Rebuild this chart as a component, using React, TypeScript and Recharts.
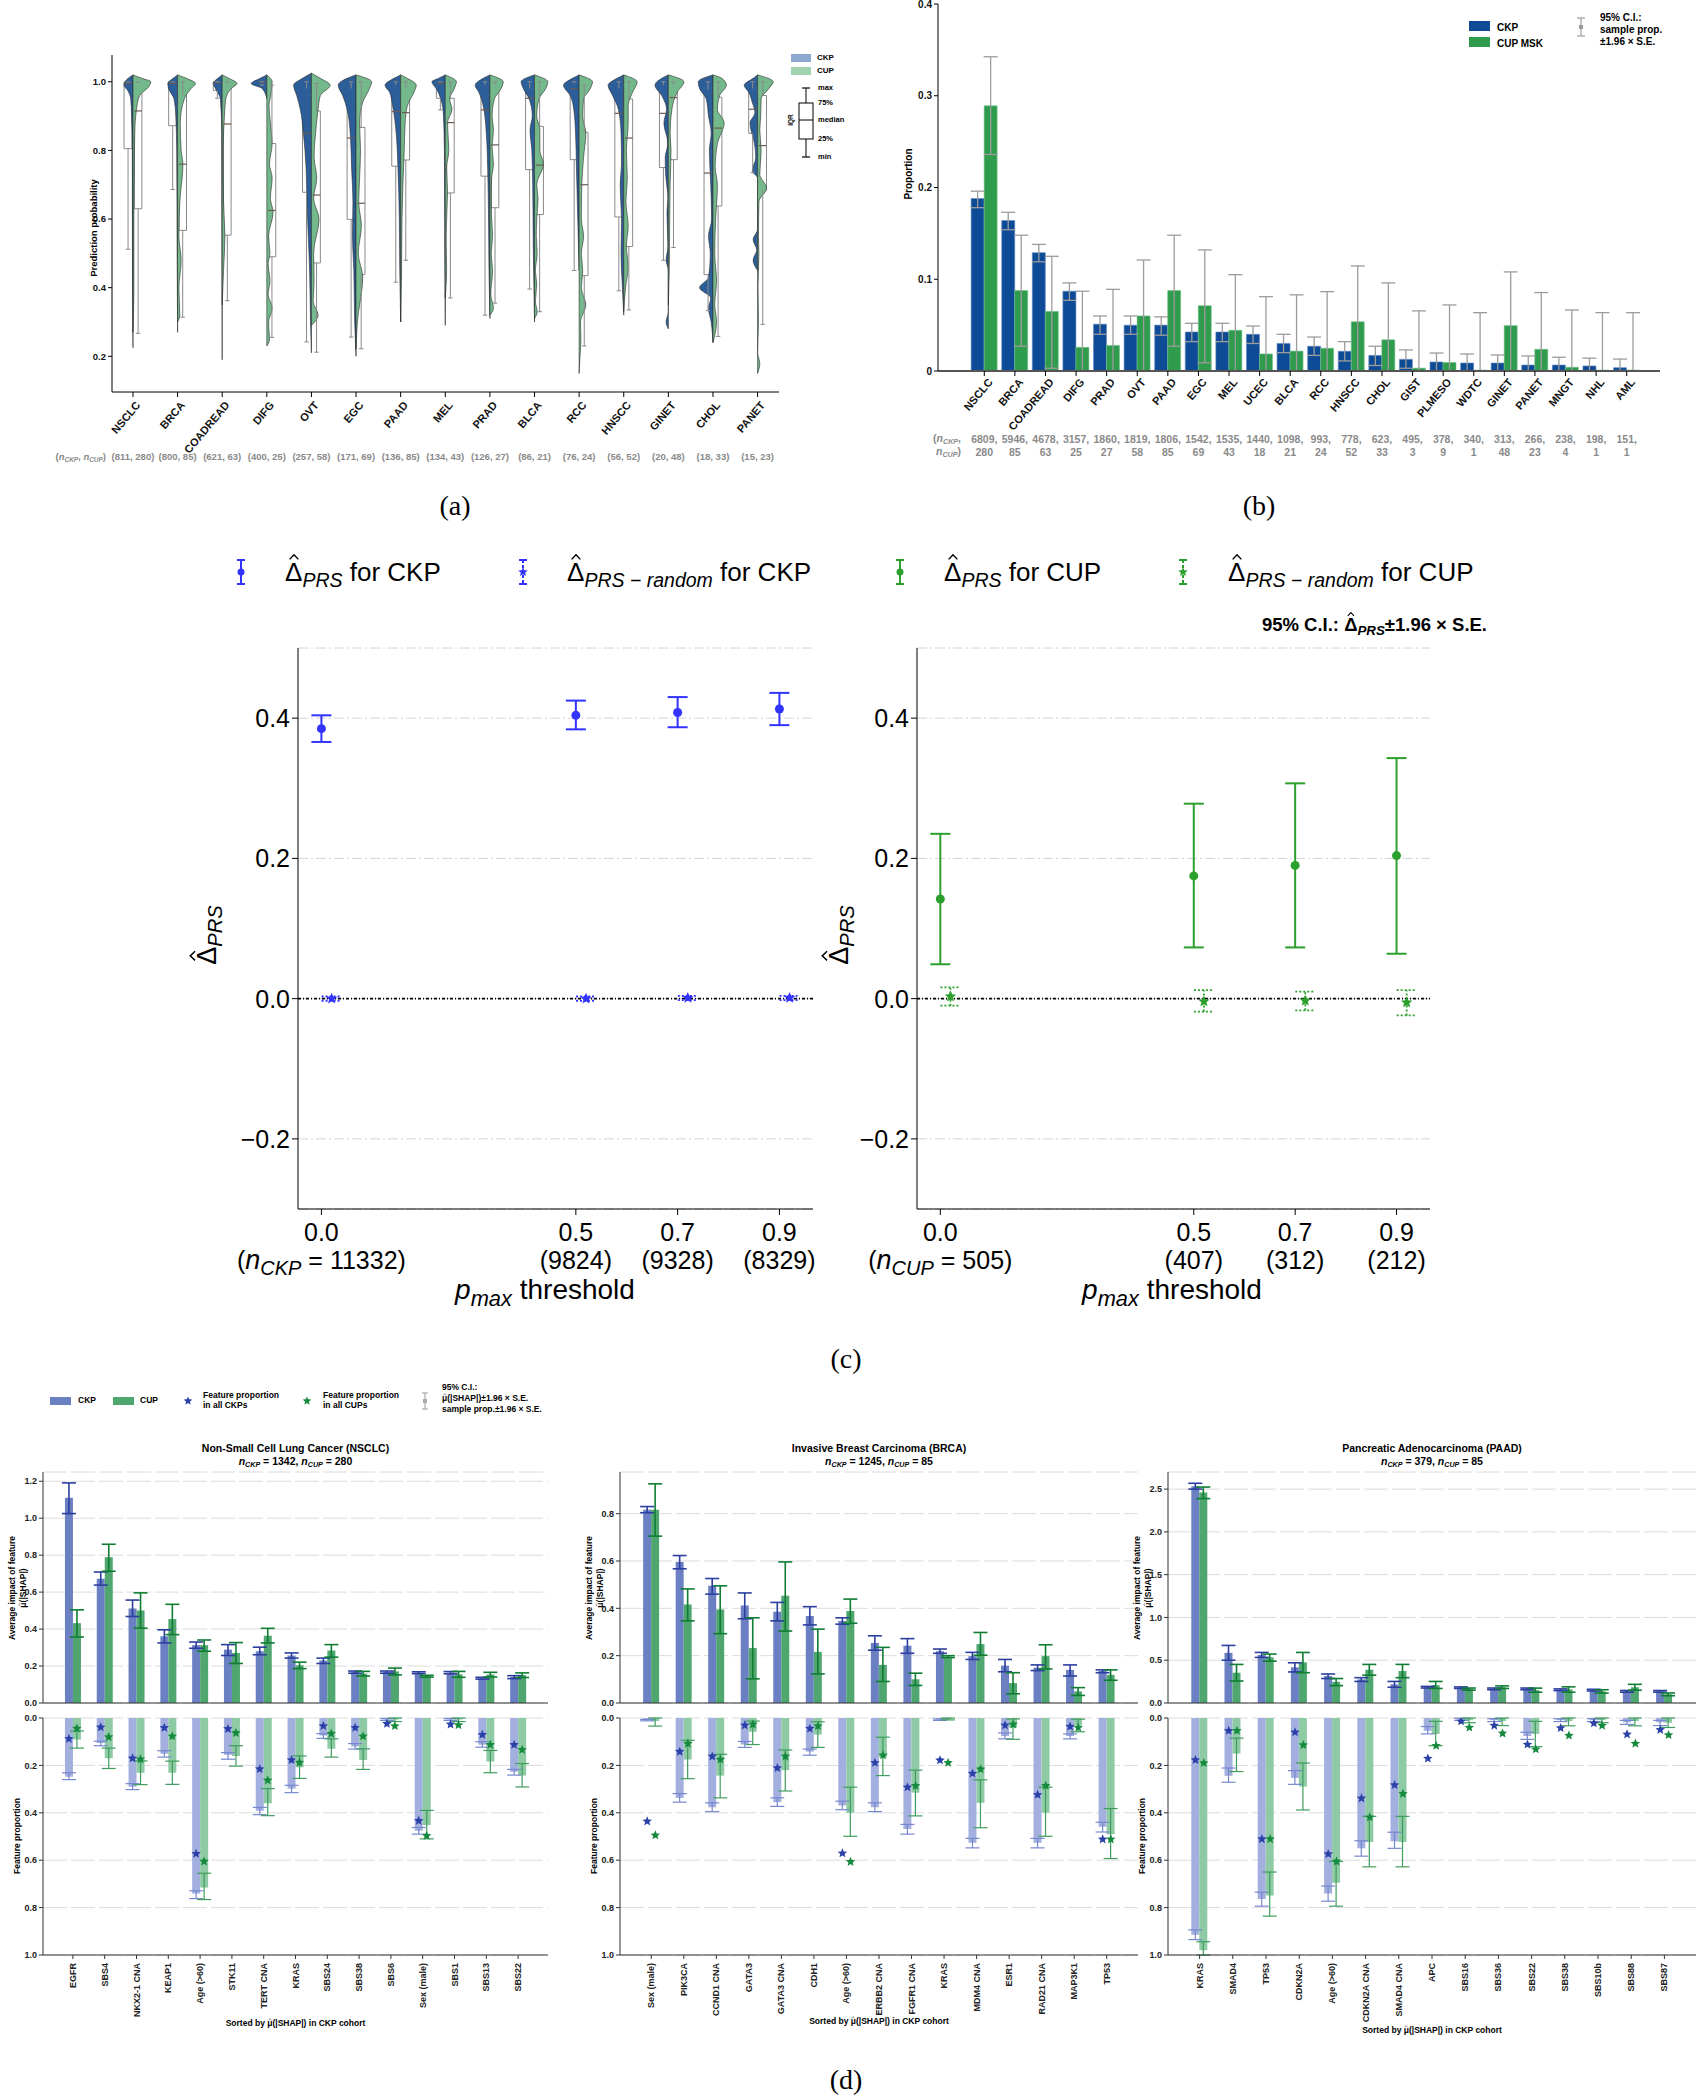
import React from "react";
import {
  ComposedChart, BarChart, Bar, Area, XAxis, YAxis, CartesianGrid, ErrorBar,
  Scatter, ReferenceArea, ReferenceLine,
} from "recharts";

const FONT = "'Liberation Sans', Arial, Helvetica, sans-serif";
const SERIF = "'Liberation Serif', 'DejaVu Serif', 'Times New Roman', serif";

// ---------------- (a) prediction probability per cancer type ----------------
const aCancers = ["NSCLC", "BRCA", "COADREAD", "DIFG", "OVT", "EGC", "PAAD", "MEL", "PRAD", "BLCA", "RCC", "HNSCC", "GINET", "CHOL", "PANET"];
const aCounts = ["(811, 280)", "(800, 85)", "(621, 63)", "(400, 25)", "(257, 58)", "(171, 69)", "(136, 85)", "(134, 43)", "(126, 27)", "(86, 21)", "(76, 24)", "(56, 52)", "(20, 48)", "(18, 33)", "(15, 23)"];
// [min, q1, median, q3, max]
const aCkpBox = [
  [0.512, 0.805, 0.995, 1.0, 1.0], [0.686, 0.872, 0.995, 1.0, 1.0], [0.952, 0.975, 0.997, 1.0, 1.0],
  [0.99, 0.995, 1.0, 1.0, 1.0], [0.242, 0.678, 0.85, 0.98, 1.0], [0.256, 0.599, 0.836, 0.98, 1.0],
  [0.416, 0.754, 0.913, 0.99, 1.0], [0.918, 0.952, 0.995, 1.0, 1.0], [0.32, 0.725, 0.918, 0.99, 1.0],
  [0.396, 0.744, 0.952, 0.98, 1.0], [0.45, 0.773, 0.98, 0.995, 1.0], [0.391, 0.606, 0.908, 0.98, 1.0],
  [0.48, 0.75, 0.908, 0.99, 1.0], [0.333, 0.438, 0.734, 0.976, 1.0], [0.735, 0.85, 0.92, 0.98, 1.0],
];
const aCupBox = [
  [0.267, 0.63, 0.915, 0.995, 1.0], [0.314, 0.567, 0.76, 0.961, 1.0], [0.362, 0.553, 0.877, 0.995, 1.0],
  [0.255, 0.49, 0.625, 0.82, 0.99], [0.212, 0.472, 0.67, 0.915, 0.995], [0.222, 0.438, 0.646, 0.867, 1.0],
  [0.48, 0.772, 0.91, 0.98, 1.0], [0.37, 0.676, 0.881, 0.952, 1.0], [0.355, 0.633, 0.816, 0.99, 1.0],
  [0.33, 0.613, 0.757, 0.87, 1.0], [0.23, 0.435, 0.70, 0.853, 0.99], [0.335, 0.52, 0.836, 0.95, 1.0],
  [0.517, 0.773, 0.954, 0.99, 1.0], [0.258, 0.638, 0.865, 0.955, 1.0], [0.293, 0.684, 0.814, 0.96, 1.0],
];
// violin outlines: [probability, half width in category units]
const aCkpViolin = [
  [[0.225, 0], [0.4, 0.01], [0.8, 0.015], [0.9, 0.03], [0.95, 0.05], [0.975, 0.12], [0.99, 0.2], [1.005, 0.15], [1.02, 0]],
  [[0.27, 0], [0.5, 0.01], [0.8, 0.02], [0.9, 0.04], [0.95, 0.08], [0.98, 0.2], [0.995, 0.22], [1.01, 0.1], [1.02, 0]],
  [[0.19, 0], [0.5, 0.005], [0.85, 0.01], [0.95, 0.04], [0.98, 0.15], [0.995, 0.2], [1.01, 0.1], [1.02, 0]],
  [[0.95, 0], [0.98, 0.1], [0.995, 0.35], [1.01, 0.15], [1.02, 0]],
  [[0.21, 0], [0.3, 0.02], [0.45, 0.04], [0.55, 0.07], [0.65, 0.1], [0.75, 0.12], [0.85, 0.18], [0.92, 0.25], [0.96, 0.33], [0.99, 0.4], [1.01, 0.2], [1.025, 0]],
  [[0.2, 0], [0.3, 0.03], [0.45, 0.05], [0.55, 0.08], [0.65, 0.07], [0.75, 0.1], [0.85, 0.13], [0.92, 0.2], [0.96, 0.3], [0.99, 0.4], [1.01, 0.2], [1.02, 0]],
  [[0.3, 0], [0.45, 0.02], [0.6, 0.03], [0.75, 0.06], [0.85, 0.1], [0.93, 0.18], [0.97, 0.25], [0.99, 0.35], [1.01, 0.15], [1.02, 0]],
  [[0.29, 0], [0.5, 0.01], [0.8, 0.02], [0.9, 0.04], [0.95, 0.1], [0.98, 0.2], [1.0, 0.3], [1.01, 0.15], [1.02, 0]],
  [[0.31, 0], [0.45, 0.02], [0.6, 0.03], [0.75, 0.05], [0.85, 0.08], [0.93, 0.15], [0.97, 0.25], [0.99, 0.33], [1.01, 0.15], [1.02, 0]],
  [[0.3, 0], [0.45, 0.02], [0.55, 0.03], [0.7, 0.04], [0.8, 0.06], [0.86, 0.1], [0.9, 0.05], [0.95, 0.12], [0.98, 0.25], [1.0, 0.3], [1.02, 0]],
  [[0.45, 0], [0.55, 0.02], [0.65, 0.04], [0.75, 0.06], [0.85, 0.08], [0.92, 0.12], [0.96, 0.2], [0.99, 0.35], [1.01, 0.15], [1.02, 0]],
  [[0.32, 0], [0.4, 0.03], [0.5, 0.06], [0.6, 0.05], [0.7, 0.08], [0.76, 0.05], [0.85, 0.06], [0.92, 0.12], [0.96, 0.25], [0.99, 0.35], [1.01, 0.15], [1.02, 0]],
  [[0.28, 0], [0.3, 0.05], [0.33, 0], [0.45, 0], [0.48, 0.05], [0.52, 0.01], [0.62, 0.03], [0.66, 0.01], [0.73, 0.06], [0.78, 0.07], [0.82, 0.01], [0.88, 0.1], [0.92, 0.04], [0.96, 0.15], [0.99, 0.3], [1.01, 0.15], [1.02, 0]],
  [[0.24, 0], [0.3, 0.04], [0.34, 0.1], [0.37, 0.05], [0.4, 0.3], [0.43, 0.1], [0.5, 0.06], [0.55, 0.1], [0.6, 0.03], [0.7, 0.05], [0.8, 0.08], [0.85, 0.04], [0.9, 0.1], [0.95, 0.15], [0.98, 0.3], [1.0, 0.33], [1.02, 0]],
  [[0.45, 0], [0.48, 0.1], [0.51, 0.02], [0.54, 0.1], [0.57, 0], [0.72, 0], [0.74, 0.12], [0.78, 0.04], [0.82, 0.07], [0.88, 0.17], [0.91, 0.06], [0.94, 0.12], [0.97, 0.2], [0.99, 0.3], [1.01, 0.1], [1.02, 0]],
];
const aCupViolin = [
  [[0.27, 0], [0.4, 0.02], [0.6, 0.02], [0.75, 0.03], [0.85, 0.04], [0.92, 0.08], [0.96, 0.15], [0.985, 0.35], [1.0, 0.4], [1.01, 0.2], [1.02, 0]],
  [[0.3, 0], [0.32, 0.05], [0.4, 0.03], [0.48, 0.08], [0.55, 0.03], [0.65, 0.05], [0.76, 0.12], [0.8, 0.08], [0.88, 0.06], [0.95, 0.15], [0.98, 0.3], [0.995, 0.4], [1.01, 0.2], [1.02, 0]],
  [[0.35, 0], [0.45, 0.03], [0.55, 0.06], [0.65, 0.03], [0.8, 0.02], [0.9, 0.05], [0.95, 0.08], [0.98, 0.2], [0.995, 0.33], [1.01, 0.15], [1.02, 0]],
  [[0.23, 0], [0.25, 0.06], [0.3, 0.04], [0.34, 0.12], [0.38, 0.03], [0.42, 0.07], [0.47, 0.03], [0.5, 0.07], [0.55, 0.04], [0.62, 0.14], [0.66, 0.08], [0.72, 0.12], [0.76, 0.06], [0.82, 0.12], [0.88, 0.08], [0.93, 0.05], [0.97, 0.1], [1.0, 0.12], [1.02, 0]],
  [[0.29, 0], [0.32, 0.15], [0.36, 0.04], [0.42, 0.06], [0.5, 0.05], [0.6, 0.17], [0.66, 0.05], [0.72, 0.12], [0.78, 0.06], [0.86, 0.1], [0.92, 0.15], [0.96, 0.2], [0.99, 0.42], [1.01, 0.2], [1.025, 0]],
  [[0.22, 0], [0.3, 0.03], [0.43, 0.15], [0.5, 0.05], [0.58, 0.12], [0.65, 0.06], [0.72, 0.08], [0.8, 0.1], [0.88, 0.08], [0.94, 0.15], [0.98, 0.3], [1.0, 0.35], [1.02, 0]],
  [[0.3, 0], [0.45, 0.02], [0.6, 0.03], [0.7, 0.05], [0.8, 0.08], [0.88, 0.1], [0.93, 0.15], [0.97, 0.3], [0.99, 0.35], [1.01, 0.15], [1.02, 0]],
  [[0.37, 0], [0.45, 0.03], [0.55, 0.02], [0.68, 0.05], [0.75, 0.03], [0.8, 0.08], [0.88, 0.05], [0.92, 0.15], [0.95, 0.1], [0.98, 0.2], [1.0, 0.25], [1.02, 0]],
  [[0.32, 0], [0.34, 0.08], [0.38, 0.02], [0.45, 0.06], [0.5, 0.03], [0.55, 0.06], [0.6, 0.04], [0.67, 0.03], [0.72, 0.04], [0.76, 0.08], [0.81, 0.05], [0.86, 0.08], [0.9, 0.05], [0.95, 0.1], [0.98, 0.25], [1.0, 0.3], [1.02, 0]],
  [[0.31, 0], [0.33, 0.06], [0.36, 0.02], [0.41, 0.05], [0.45, 0.02], [0.5, 0.06], [0.55, 0.04], [0.6, 0.05], [0.66, 0.08], [0.7, 0.05], [0.76, 0.2], [0.8, 0.12], [0.86, 0.12], [0.9, 0.05], [0.95, 0.1], [0.98, 0.25], [1.0, 0.3], [1.02, 0]],
  [[0.15, 0], [0.2, 0.02], [0.25, 0.04], [0.3, 0.03], [0.35, 0.15], [0.4, 0.05], [0.45, 0.08], [0.5, 0.05], [0.55, 0.1], [0.6, 0.05], [0.7, 0.06], [0.78, 0.1], [0.85, 0.15], [0.9, 0.08], [0.95, 0.1], [0.98, 0.25], [1.0, 0.3], [1.02, 0]],
  [[0.33, 0], [0.4, 0.04], [0.46, 0.1], [0.52, 0.06], [0.58, 0.1], [0.65, 0.05], [0.72, 0.08], [0.8, 0.06], [0.88, 0.1], [0.93, 0.1], [0.97, 0.2], [1.0, 0.3], [1.02, 0]],
  [[0.35, 0], [0.45, 0.02], [0.6, 0.03], [0.7, 0.04], [0.8, 0.06], [0.85, 0.04], [0.92, 0.08], [0.97, 0.2], [1.0, 0.35], [1.02, 0]],
  [[0.24, 0], [0.3, 0.08], [0.35, 0.04], [0.42, 0.08], [0.5, 0.04], [0.6, 0.06], [0.7, 0.1], [0.75, 0.05], [0.82, 0.1], [0.88, 0.25], [0.92, 0.1], [0.96, 0.15], [0.99, 0.3], [1.01, 0.2], [1.02, 0]],
  [[0.15, 0], [0.18, 0.05], [0.21, 0], [0.3, 0.02], [0.4, 0.01], [0.5, 0.03], [0.55, 0.02], [0.65, 0.03], [0.69, 0.2], [0.73, 0.05], [0.8, 0.08], [0.86, 0.05], [0.9, 0.07], [0.95, 0.08], [0.98, 0.25], [1.0, 0.35], [1.02, 0]],
];

// ---------------- (b) cancer type proportions ----------------
const bCancers = ["NSCLC", "BRCA", "COADREAD", "DIFG", "PRAD", "OVT", "PAAD", "EGC", "MEL", "UCEC", "BLCA", "RCC", "HNSCC", "CHOL", "GIST", "PLMESO", "WDTC", "GINET", "PANET", "MNGT", "NHL", "AML"];
const bCkp = [0.188, 0.164, 0.129, 0.087, 0.051, 0.05, 0.05, 0.0425, 0.0425, 0.04, 0.03, 0.027, 0.0215, 0.017, 0.0127, 0.0098, 0.0087, 0.0087, 0.0065, 0.0065, 0.0055, 0.0036];
const bCkpCI = [[0.178, 0.196], [0.154, 0.173], [0.119, 0.138], [0.077, 0.096], [0.04, 0.06], [0.04, 0.06], [0.039, 0.059], [0.032, 0.052], [0.032, 0.052], [0.03, 0.049], [0.02, 0.04], [0.017, 0.037], [0.011, 0.032], [0.006, 0.027], [0.003, 0.023], [0.0, 0.0196], [0.0, 0.0185], [0.0, 0.0175], [0.0, 0.0164], [0.0, 0.015], [0.0, 0.014], [0.0, 0.013]];
const bCup = [0.289, 0.0877, 0.065, 0.0258, 0.0279, 0.06, 0.0877, 0.0712, 0.0444, 0.0186, 0.0217, 0.0248, 0.0537, 0.034, 0.0031, 0.0093, 0.001, 0.0495, 0.0237, 0.0041, 0.001, 0.001];
const bCupCI = [[0.236, 0.3425], [0.027, 0.148], [0.003, 0.125], [0.0, 0.087], [0.0, 0.089], [0.0, 0.121], [0.027, 0.148], [0.009, 0.132], [0.0, 0.105], [0.0, 0.081], [0.0, 0.083], [0.0, 0.0865], [0.0, 0.1145], [0.0, 0.096], [0.0, 0.0655], [0.0, 0.072], [0.0, 0.0636], [0.0, 0.108], [0.0, 0.0855], [0.0, 0.0665], [0.0, 0.0636], [0.0, 0.0636]];
const bNCkp = ["6809", "5946", "4678", "3157", "1860", "1819", "1806", "1542", "1535", "1440", "1098", "993", "778", "623", "495", "378", "340", "313", "266", "238", "198", "151"];
const bNCup = ["280", "85", "63", "25", "27", "58", "85", "69", "43", "18", "21", "24", "52", "33", "3", "9", "1", "48", "23", "4", "1", "1"];

// ---------------- (c) PRS vs p_max threshold ----------------
const cThresholds = [0, 0.5, 0.7, 0.9];
const cCkpN = ["11332", "9824", "9328", "8329"];
const cCupN = ["505", "407", "312", "212"];
const cCkpPrs = [0.385, 0.404, 0.408, 0.413];
const cCkpPrsCI = [[0.366, 0.404], [0.384, 0.425], [0.387, 0.43], [0.39, 0.436]];
const cCkpRand = [0.0, 0.0, 0.001, 0.001];
const cCkpRandCI = [[-0.003, 0.003], [-0.003, 0.003], [-0.002, 0.004], [-0.002, 0.004]];
const cCupPrs = [0.142, 0.175, 0.19, 0.204];
const cCupPrsCI = [[0.049, 0.235], [0.073, 0.278], [0.073, 0.307], [0.064, 0.343]];
const cCupRand = [0.003, -0.004, -0.003, -0.0055];
const cCupRandCI = [[-0.01, 0.016], [-0.0185, 0.012], [-0.0167, 0.01], [-0.024, 0.012]];

// ---------------- (d) SHAP + feature proportion ----------------
const nsclcFeatures = ["EGFR", "SBS4", "NKX2-1 CNA", "KEAP1", "Age (>60)", "STK11", "TERT CNA", "KRAS", "SBS24", "SBS38", "SBS6", "Sex (male)", "SBS1", "SBS13", "SBS22"];
const nsclcCkpShap = [1.11, 0.673, 0.512, 0.361, 0.313, 0.289, 0.28, 0.257, 0.23, 0.168, 0.168, 0.164, 0.164, 0.134, 0.141];
const nsclcCkpShapCI = [[1.025, 1.191], [0.638, 0.709], [0.468, 0.557], [0.325, 0.396], [0.296, 0.33], [0.257, 0.316], [0.261, 0.302], [0.243, 0.271], [0.214, 0.243], [0.161, 0.173], [0.161, 0.173], [0.159, 0.169], [0.158, 0.17], [0.129, 0.139], [0.132, 0.148]];
const nsclcCupShap = [0.432, 0.789, 0.5, 0.454, 0.313, 0.271, 0.364, 0.204, 0.284, 0.159, 0.171, 0.145, 0.155, 0.154, 0.152];
const nsclcCupShapCI = [[0.357, 0.504], [0.713, 0.859], [0.405, 0.596], [0.37, 0.534], [0.28, 0.341], [0.214, 0.327], [0.325, 0.404], [0.186, 0.221], [0.248, 0.316], [0.146, 0.171], [0.152, 0.189], [0.14, 0.15], [0.139, 0.171], [0.141, 0.166], [0.138, 0.163]];
const nsclcCkpProp = [0.248, 0.106, 0.29, 0.151, 0.74, 0.155, 0.391, 0.298, 0.074, 0.12, 0.006, 0.476, 0.006, 0.113, 0.227];
const nsclcCkpPropCI = [[0.231, 0.26], [0.098, 0.117], [0.277, 0.302], [0.138, 0.165], [0.729, 0.762], [0.146, 0.174], [0.377, 0.408], [0.284, 0.315], [0.066, 0.086], [0.108, 0.131], [0.002, 0.01], [0.462, 0.49], [0.002, 0.01], [0.1, 0.123], [0.217, 0.241]];
const nsclcCupProp = [0.091, 0.17, 0.231, 0.231, 0.715, 0.16, 0.36, 0.208, 0.13, 0.177, 0.006, 0.452, 0.006, 0.184, 0.243];
const nsclcCupPropCI = [[0.055, 0.127], [0.127, 0.213], [0.181, 0.281], [0.182, 0.28], [0.655, 0.766], [0.117, 0.203], [0.298, 0.412], [0.16, 0.255], [0.088, 0.165], [0.13, 0.217], [0.0, 0.015], [0.39, 0.51], [0.0, 0.015], [0.137, 0.231], [0.192, 0.291]];
const nsclcCkpStar = [0.088, 0.039, 0.17, 0.041, 0.573, 0.046, 0.215, 0.177, 0.034, 0.041, 0.024, 0.434, 0.027, 0.071, 0.113];
const nsclcCupStar = [0.044, 0.08, 0.174, 0.077, 0.605, 0.063, 0.263, 0.188, 0.066, 0.077, 0.034, 0.497, 0.03, 0.113, 0.134];

const brcaFeatures = ["Sex (male)", "PIK3CA", "CCND1 CNA", "GATA3", "GATA3 CNA", "CDH1", "Age (>60)", "ERBB2 CNA", "FGFR1 CNA", "KRAS", "MDM4 CNA", "ESR1", "RAD21 CNA", "MAP3K1", "TP53"];
const brcaCkpShap = [0.816, 0.596, 0.495, 0.412, 0.386, 0.368, 0.346, 0.254, 0.242, 0.219, 0.198, 0.158, 0.149, 0.14, 0.135];
const brcaCkpShapCI = [[0.804, 0.83], [0.567, 0.623], [0.46, 0.526], [0.356, 0.465], [0.347, 0.425], [0.33, 0.407], [0.333, 0.36], [0.223, 0.284], [0.21, 0.272], [0.21, 0.228], [0.184, 0.214], [0.132, 0.184], [0.137, 0.161], [0.114, 0.161], [0.128, 0.14]];
const brcaCupShap = [0.816, 0.416, 0.395, 0.232, 0.453, 0.216, 0.389, 0.161, 0.1, 0.196, 0.249, 0.084, 0.198, 0.049, 0.119];
const brcaCupShapCI = [[0.705, 0.926], [0.347, 0.482], [0.293, 0.495], [0.102, 0.36], [0.304, 0.596], [0.123, 0.312], [0.337, 0.439], [0.091, 0.235], [0.074, 0.126], [0.192, 0.2], [0.202, 0.298], [0.039, 0.128], [0.144, 0.246], [0.032, 0.065], [0.096, 0.14]];
const brcaCkpProp = [0.009, 0.337, 0.377, 0.112, 0.355, 0.142, 0.369, 0.377, 0.468, 0.007, 0.526, 0.076, 0.526, 0.076, 0.459];
const brcaCkpPropCI = [[0.006, 0.012], [0.319, 0.355], [0.358, 0.395], [0.099, 0.124], [0.337, 0.373], [0.131, 0.157], [0.351, 0.387], [0.358, 0.395], [0.449, 0.49], [0.004, 0.01], [0.508, 0.548], [0.063, 0.088], [0.508, 0.548], [0.067, 0.088], [0.44, 0.481]];
const brcaCupProp = [0.013, 0.175, 0.243, 0.058, 0.22, 0.07, 0.4, 0.166, 0.315, 0.004, 0.358, 0.04, 0.4, 0.031, 0.49];
const brcaCupPropCI = [[0.0, 0.034], [0.094, 0.256], [0.153, 0.337], [0.013, 0.112], [0.135, 0.308], [0.016, 0.124], [0.292, 0.499], [0.081, 0.243], [0.22, 0.413], [0.0, 0.008], [0.261, 0.463], [0.004, 0.09], [0.292, 0.499], [0.005, 0.058], [0.382, 0.593]];
const brcaCkpStar = [0.436, 0.142, 0.162, 0.031, 0.211, 0.045, 0.571, 0.189, 0.292, 0.178, 0.234, 0.031, 0.324, 0.036, 0.512];
const brcaCupStar = [0.495, 0.108, 0.175, 0.027, 0.162, 0.034, 0.607, 0.157, 0.286, 0.189, 0.216, 0.027, 0.286, 0.04, 0.512];

const paadFeatures = ["KRAS", "SMAD4", "TP53", "CDKN2A", "Age (>60)", "CDKN2A CNA", "SMAD4 CNA", "APC", "SBS16", "SBS36", "SBS22", "SBS38", "SBS10b", "SBS88", "SBS87"];
const paadCkpShap = [2.534, 0.586, 0.562, 0.417, 0.315, 0.276, 0.218, 0.184, 0.179, 0.165, 0.165, 0.155, 0.15, 0.136, 0.136];
const paadCkpShapCI = [[2.5, 2.568], [0.5, 0.673], [0.533, 0.591], [0.363, 0.47], [0.286, 0.339], [0.252, 0.296], [0.184, 0.252], [0.175, 0.194], [0.17, 0.188], [0.155, 0.175], [0.155, 0.175], [0.145, 0.165], [0.14, 0.16], [0.126, 0.146], [0.126, 0.146]];
const paadCupShap = [2.461, 0.354, 0.533, 0.475, 0.247, 0.388, 0.373, 0.208, 0.165, 0.184, 0.15, 0.16, 0.136, 0.184, 0.102];
const paadCupShapCI = [[2.389, 2.524], [0.257, 0.451], [0.489, 0.572], [0.354, 0.591], [0.203, 0.286], [0.325, 0.451], [0.296, 0.451], [0.17, 0.252], [0.15, 0.175], [0.17, 0.2], [0.126, 0.174], [0.126, 0.189], [0.116, 0.155], [0.15, 0.218], [0.085, 0.117]];
const paadCkpProp = [0.915, 0.244, 0.764, 0.253, 0.74, 0.55, 0.52, 0.054, 0.005, 0.009, 0.076, 0.009, 0.009, 0.018, 0.018];
const paadCkpPropCI = [[0.894, 0.935], [0.211, 0.271], [0.735, 0.794], [0.222, 0.28], [0.709, 0.773], [0.518, 0.583], [0.482, 0.55], [0.036, 0.067], [0.001, 0.01], [0.003, 0.015], [0.06, 0.09], [0.003, 0.015], [0.003, 0.015], [0.01, 0.027], [0.01, 0.032]];
const paadCupProp = [0.98, 0.15, 0.749, 0.289, 0.695, 0.523, 0.523, 0.067, 0.009, 0.013, 0.067, 0.013, 0.009, 0.013, 0.02];
const paadCupPropCI = [[0.944, 1.0], [0.085, 0.226], [0.65, 0.836], [0.19, 0.388], [0.605, 0.794], [0.415, 0.628], [0.415, 0.628], [0.014, 0.117], [0.0, 0.02], [0.0, 0.032], [0.014, 0.121], [0.0, 0.033], [0.0, 0.02], [0.0, 0.033], [0.0, 0.04]];
const paadCkpStar = [0.177, 0.054, 0.511, 0.06, 0.574, 0.339, 0.283, 0.171, 0.014, 0.032, 0.112, 0.042, 0.022, 0.069, 0.05];
const paadCupStar = [0.19, 0.054, 0.511, 0.114, 0.605, 0.419, 0.32, 0.117, 0.04, 0.065, 0.132, 0.074, 0.032, 0.108, 0.072];

// ---------------- helpers ----------------
const starPath = (cx: number, cy: number, r: number) => {
  let d = "";
  for (let k = 0; k < 10; k++) {
    const rr = k % 2 === 0 ? r : r * 0.45;
    const a = -Math.PI / 2 + (k * Math.PI) / 5;
    d += (k === 0 ? "M" : "L") + (cx + rr * Math.cos(a)).toFixed(2) + "," + (cy + rr * Math.sin(a)).toFixed(2);
  }
  return d + "Z";
};

const StarShape = (props: any) =>
  props.cx == null ? null : <path d={starPath(props.cx, props.cy, props.rad || 5)} fill={props.color} />;
const DotShape = (props: any) =>
  props.cx == null ? null : <circle cx={props.cx} cy={props.cy} r={props.rad || 4.5} fill={props.color} />;

const Txt = ({ x, y, size = 10, weight = 400, color = "#000", anchor = "middle", rotate = 0, family = FONT, italic = false, children }: any) => {
  const tx = anchor === "middle" ? "-50%" : anchor === "end" ? "-100%" : "0%";
  return (
    <div style={{
      position: "absolute", left: x, top: y, transform: `translate(${tx}, -50%) rotate(${rotate}deg)`,
      whiteSpace: "nowrap", fontSize: size, fontWeight: weight, color, fontFamily: family,
      fontStyle: italic ? "italic" : "normal", lineHeight: 1.1,
    }}>{children}</div>
  );
};
const Sub = ({ children, s = 0.68 }: any) => (
  <span style={{ fontSize: `${s}em`, fontStyle: "italic", position: "relative", top: "0.32em" }}>{children}</span>
);
const Hat = ({ children }: any) => (
  <span style={{ position: "relative", display: "inline-block" }}>
    {children}
    <svg viewBox="0 0 10 6" preserveAspectRatio="none"
      style={{ position: "absolute", left: "50%", top: "-0.16em", width: "0.42em", height: "0.24em", transform: "translateX(-50%)", overflow: "visible" }}>
      <polyline points="1,5.5 5,1 9,5.5" fill="none" stroke="currentColor" strokeWidth={1.3} />
    </svg>
  </span>
);
const fmtMinus = (v: number) => (v < 0 ? "\u2212" + Math.abs(v).toFixed(1) : v.toFixed(1));
const errOf = (v: number, ci: number[]) => [Math.max(0, v - ci[0]), Math.max(0, ci[1] - v)];

// ---------------- (a) ----------------
const ATick = (props: any) => {
  const { x, y, payload } = props;
  const i = Math.round(payload.value);
  return (
    <g fontFamily={FONT} fontWeight={700}>
      <text transform={`translate(${x + 5},${y + 4}) rotate(-50)`} textAnchor="end" fontSize={11} fill="#111" dy="0.35em">{aCancers[i]}</text>
      <text x={x} y={y + 58} textAnchor="middle" fontSize={9.5} fill="#8a8a8a" dy="0.35em">{aCounts[i]}</text>
    </g>
  );
};

function PanelA() {
  const violins = aCancers.flatMap((_, i) => [
    <Area key={`vk${i}`} data={aCkpViolin[i].map(([p, w]) => ({ p, v: [i - w, i] }))} dataKey="v" type="monotone"
      fill="#2c5e99" fillOpacity={1} stroke="#2a2a2a" strokeWidth={0.6} isAnimationActive={false} dot={false} activeDot={false} />,
    <Area key={`vu${i}`} data={aCupViolin[i].map(([p, w]) => ({ p, v: [i, i + w] }))} dataKey="v" type="monotone"
      fill="#74b98b" fillOpacity={1} stroke="#2a2a2a" strokeWidth={0.6} isAnimationActive={false} dot={false} activeDot={false} />,
  ]);
  const boxes: any[] = [];
  aCancers.forEach((_, i) => {
    [[aCkpBox[i], i - 0.2, i - 0.02], [aCupBox[i], i + 0.03, i + 0.2]].forEach(([b, xa, xb]: any, k) => {
      const xm = (xa + xb) / 2;
      const g = "#8a8a8a";
      boxes.push(<ReferenceArea key={`ba${i}${k}`} x1={xa} x2={xb} y1={b[1]} y2={b[3]} fill="none" fillOpacity={0} stroke={g} strokeWidth={1} ifOverflow="visible" />);
      boxes.push(<ReferenceLine key={`bm${i}${k}`} segment={[{ x: xa, y: b[2] }, { x: xb, y: b[2] }]} stroke="#6b5a50" strokeWidth={1.2} ifOverflow="visible" />);
      boxes.push(<ReferenceLine key={`bl${i}${k}`} segment={[{ x: xm, y: b[0] }, { x: xm, y: b[1] }]} stroke={g} ifOverflow="visible" />);
      boxes.push(<ReferenceLine key={`bh${i}${k}`} segment={[{ x: xm, y: b[3] }, { x: xm, y: b[4] }]} stroke={g} ifOverflow="visible" />);
      boxes.push(<ReferenceLine key={`bc${i}${k}`} segment={[{ x: xm - 0.05, y: b[0] }, { x: xm + 0.05, y: b[0] }]} stroke={g} ifOverflow="visible" />);
      boxes.push(<ReferenceLine key={`bt${i}${k}`} segment={[{ x: xm - 0.05, y: b[4] }, { x: xm + 0.05, y: b[4] }]} stroke={g} ifOverflow="visible" />);
    });
  });
  return (
    <div style={{ position: "absolute", left: 40, top: 0 }}>
      <ComposedChart layout="vertical" width={770} height={480} margin={{ top: 55, right: 31, left: 36, bottom: 0 }}>
        <XAxis type="number" domain={[-0.47, 14.48]} ticks={aCancers.map((_, i) => i)} allowDataOverflow interval={0}
          tick={<ATick />} height={88} tickSize={5} axisLine={{ stroke: "#000" }} tickLine={{ stroke: "#000" }} />
        <YAxis type="number" dataKey="p" domain={[0.096, 1.078]} ticks={[0.2, 0.4, 0.6, 0.8, 1.0]} allowDataOverflow reversed
          width={36} tickSize={4} tickFormatter={(v: number) => v.toFixed(1)} axisLine={{ stroke: "#000" }} tickLine={{ stroke: "#000" }}
          tick={{ fontSize: 9.5, fontWeight: 700, fill: "#111", fontFamily: FONT }} />
        {boxes}
        {violins}
      </ComposedChart>
    </div>
  );
}

function LegendA() {
  return (
    <>
      <div style={{ position: "absolute", left: 791, top: 54, width: 20, height: 8, background: "#8eaad2" }} />
      <div style={{ position: "absolute", left: 791, top: 67, width: 20, height: 8, background: "#a2d3b0" }} />
      <Txt x={817} y={58} size={8} weight={700} anchor="start">CKP</Txt>
      <Txt x={817} y={71} size={8} weight={700} anchor="start">CUP</Txt>
      <svg style={{ position: "absolute", left: 796, top: 84 }} width={20} height={78}>
        <line x1={10} y1={4} x2={10} y2={19} stroke="#000" strokeWidth={1} />
        <line x1={10} y1={55} x2={10} y2={73} stroke="#000" strokeWidth={1} />
        <line x1={6} y1={4} x2={14} y2={4} stroke="#000" strokeWidth={1.2} />
        <line x1={6} y1={73} x2={14} y2={73} stroke="#000" strokeWidth={1.2} />
        <rect x={3} y={19} width={14} height={36} fill="none" stroke="#000" strokeWidth={1} />
        <line x1={3} y1={36} x2={17} y2={36} stroke="#000" strokeWidth={1} />
      </svg>
      <Txt x={791} y={120} size={6.5} weight={700} rotate={-90}>IQR</Txt>
      <Txt x={818} y={88} size={7.5} weight={700} anchor="start">max</Txt>
      <Txt x={818} y={103} size={7.5} weight={700} anchor="start">75%</Txt>
      <Txt x={818} y={120} size={7.5} weight={700} anchor="start">median</Txt>
      <Txt x={818} y={139} size={7.5} weight={700} anchor="start">25%</Txt>
      <Txt x={818} y={157} size={7.5} weight={700} anchor="start">min</Txt>
      <Txt x={94} y={228} size={9.5} weight={700} rotate={-90}>Prediction probability</Txt>
      <Txt x={106} y={457} size={9.5} weight={700} color="#8a8a8a" anchor="end">
        (<i>n</i><Sub>CKP</Sub>, <i>n</i><Sub>CUP</Sub>)
      </Txt>
    </>
  );
}

// ---------------- (b) ----------------
const BTick = (props: any) => {
  const { x, y, payload, index } = props;
  return (
    <g fontFamily={FONT} fontWeight={700}>
      <text transform={`translate(${x + 6},${y + 2}) rotate(-50)`} textAnchor="end" fontSize={11} fill="#111" dy="0.35em">{payload.value}</text>
      <text x={x} y={y + 61} textAnchor="middle" fontSize={10.5} fill="#8a8a8a" dy="0.35em">{bNCkp[index]},</text>
      <text x={x} y={y + 74} textAnchor="middle" fontSize={10.5} fill="#8a8a8a" dy="0.35em">{bNCup[index]}</text>
    </g>
  );
};

function PanelB() {
  const data = bCancers.map((c, i) => ({
    c, ckp: bCkp[i], ckpE: errOf(bCkp[i], bCkpCI[i]), cup: bCup[i], cupE: errOf(bCup[i], bCupCI[i]),
  }));
  return (
    <div style={{ position: "absolute", left: 880, top: -6 }}>
      <BarChart width={800} height={476} data={data} margin={{ top: 10, right: 20, left: 28, bottom: 0 }} barCategoryGap="7%" barGap={0}>
        <XAxis dataKey="c" interval={0} tick={<BTick />} height={99} padding={{ left: 31, right: 18 }} tickSize={5}
          axisLine={{ stroke: "#555", strokeWidth: 2 }} tickLine={{ stroke: "#000" }} />
        <YAxis domain={[0, 0.4]} ticks={[0, 0.1, 0.2, 0.3, 0.4]} allowDataOverflow width={30} tickSize={4}
          tickFormatter={(v: number) => (v === 0 ? "0" : String(v))} axisLine={{ stroke: "#000" }} tickLine={{ stroke: "#000" }}
          tick={{ fontSize: 10, fontWeight: 700, fill: "#111", fontFamily: FONT }} />
        <Bar dataKey="ckp" fill="#0e4b96" stroke="#5f86c0" strokeWidth={0.6} isAnimationActive={false}>
          <ErrorBar dataKey="ckpE" width={7} stroke="#9c9c9c" strokeWidth={1.3} direction="y" />
        </Bar>
        <Bar dataKey="cup" fill="#2f9b4c" stroke="#74c48b" strokeWidth={0.6} isAnimationActive={false}>
          <ErrorBar dataKey="cupE" width={7} stroke="#9c9c9c" strokeWidth={1.3} direction="y" />
        </Bar>
      </BarChart>
    </div>
  );
}

function LegendB() {
  return (
    <>
      <div style={{ position: "absolute", left: 1469, top: 21, width: 21, height: 10, background: "#0e4b96" }} />
      <div style={{ position: "absolute", left: 1469, top: 37, width: 21, height: 10, background: "#2f9b4c" }} />
      <Txt x={1497} y={27} size={10} weight={700} anchor="start">CKP</Txt>
      <Txt x={1497} y={43} size={10} weight={700} anchor="start">CUP MSK</Txt>
      <svg style={{ position: "absolute", left: 1575, top: 16 }} width={12} height={22}>
        <line x1={6} y1={2} x2={6} y2={20} stroke="#9c9c9c" strokeWidth={1.2} />
        <line x1={2} y1={2} x2={10} y2={2} stroke="#9c9c9c" strokeWidth={1.2} />
        <line x1={2} y1={20} x2={10} y2={20} stroke="#9c9c9c" strokeWidth={1.2} />
        <rect x={4} y={9} width={4} height={4} fill="#9c9c9c" />
      </svg>
      <Txt x={1600} y={17} size={10} weight={700} anchor="start">95% C.I.:</Txt>
      <Txt x={1600} y={29} size={10} weight={700} anchor="start">sample prop.</Txt>
      <Txt x={1600} y={41} size={10} weight={700} anchor="start">±1.96 × S.E.</Txt>
      <Txt x={908} y={174} size={10} weight={700} rotate={-90}>Proportion</Txt>
      <Txt x={961} y={439} size={10.5} weight={700} color="#8a8a8a" anchor="end">(<i>n</i><Sub>CKP</Sub>,</Txt>
      <Txt x={961} y={452} size={10.5} weight={700} color="#8a8a8a" anchor="end"><i>n</i><Sub>CUP</Sub>)</Txt>
    </>
  );
}

// ---------------- (c) ----------------
const CTick = (props: any) => {
  const { x, y, payload, counts, cohort } = props;
  const i = cThresholds.indexOf(payload.value);
  return (
    <g fontFamily={FONT} fontSize={25} fill="#000">
      <text x={x} y={y + 24} textAnchor="middle" fill="#000">{Number(payload.value).toFixed(1)}</text>
      {i === 0 ? (
        <text x={x} y={y + 52} textAnchor="middle" fill="#000">
          (<tspan fontStyle="italic" fontSize={27}>n</tspan>
          <tspan fontStyle="italic" fontSize={20} dy={6}>{cohort}</tspan>
          <tspan dy={-6}>{` = ${counts[0]})`}</tspan>
        </text>
      ) : (
        <text x={x} y={y + 52} textAnchor="middle" fill="#000">({counts[i]})</text>
      )}
    </g>
  );
};

function PanelC({ left, width, ml, mr, prs, prsCI, rnd, rndCI, color, counts, cohort }: any) {
  const main = cThresholds.map((t, i) => ({ x: t, y: prs[i], e: errOf(prs[i], prsCI[i]) }));
  const rand = cThresholds.map((t, i) => ({ x: t + 0.02, y: rnd[i], e: errOf(rnd[i], rndCI[i]) }));
  return (
    <div style={{ position: "absolute", left, top: 630 }}>
      <ComposedChart width={width} height={690} margin={{ top: 18, right: mr, left: ml, bottom: 0 }}>
        <CartesianGrid vertical={false} stroke="#d4d4d4" strokeDasharray="10 3 2 3" />
        <XAxis type="number" dataKey="x" domain={[-0.046, 0.966]} ticks={cThresholds} allowDataOverflow interval={0}
          tick={<CTick counts={counts} cohort={cohort} />} height={111} tickSize={6}
          axisLine={{ stroke: "#000" }} tickLine={{ stroke: "#000" }} />
        <YAxis type="number" dataKey="y" domain={[-0.3, 0.5]} ticks={[-0.2, 0, 0.2, 0.4]} allowDataOverflow width={60}
          tickSize={6} tickFormatter={fmtMinus} axisLine={{ stroke: "#000" }} tickLine={{ stroke: "#000" }}
          tick={{ fontSize: 25, fill: "#000", fontFamily: FONT }} />
        <ReferenceLine y={0} stroke="#000" strokeWidth={1.6} strokeDasharray="3 2 1 2" />
        <Scatter data={main} shape={<DotShape color={color} rad={4.5} />} isAnimationActive={false}>
          <ErrorBar dataKey="e" direction="y" width={10} stroke={color} strokeWidth={2} />
        </Scatter>
        <Scatter data={rand} shape={<StarShape color={color} rad={6} />} isAnimationActive={false}>
          <ErrorBar dataKey="e" direction="y" width={10} stroke={color} strokeWidth={1.8} strokeDasharray="2 2" />
        </Scatter>
      </ComposedChart>
    </div>
  );
}

const ErrGlyph = ({ x, y, color, dashed, star }: any) => (
  <svg style={{ position: "absolute", left: x - 8, top: y - 14 }} width={16} height={28}>
    <line x1={8} y1={2} x2={8} y2={26} stroke={color} strokeWidth={2} strokeDasharray={dashed ? "3 2" : undefined} />
    <line x1={4} y1={2} x2={12} y2={2} stroke={color} strokeWidth={2} />
    <line x1={4} y1={26} x2={12} y2={26} stroke={color} strokeWidth={2} />
    {star ? <path d={starPath(8, 14, 5)} fill={color} /> : <circle cx={8} cy={14} r={3.5} fill={color} />}
  </svg>
);

function LegendC() {
  const blue = "#3333ff", green = "#2ca02c";
  return (
    <>
      <ErrGlyph x={241} y={572} color={blue} />
      <Txt x={285} y={572} size={26} anchor="start"><Hat>Δ</Hat><Sub s={0.75}>PRS</Sub> for CKP</Txt>
      <ErrGlyph x={523} y={572} color={blue} dashed star />
      <Txt x={567} y={572} size={26} anchor="start"><Hat>Δ</Hat><Sub s={0.75}>PRS − random</Sub> for CKP</Txt>
      <ErrGlyph x={900} y={572} color={green} />
      <Txt x={944} y={572} size={26} anchor="start"><Hat>Δ</Hat><Sub s={0.75}>PRS</Sub> for CUP</Txt>
      <ErrGlyph x={1183} y={572} color={green} dashed star />
      <Txt x={1228} y={572} size={26} anchor="start"><Hat>Δ</Hat><Sub s={0.75}>PRS − random</Sub> for CUP</Txt>
      <Txt x={1487} y={625} size={18.5} weight={700} anchor="end">95% C.I.: <Hat>Δ</Hat><Sub s={0.72}>PRS</Sub>±1.96 × S.E.</Txt>
      <Txt x={208} y={935} size={27} rotate={-90}><Hat>Δ</Hat><Sub s={0.75}>PRS</Sub></Txt>
      <Txt x={840} y={935} size={27} rotate={-90}><Hat>Δ</Hat><Sub s={0.75}>PRS</Sub></Txt>
      <Txt x={545} y={1290} size={28}><i>p</i><Sub s={0.78}>max</Sub> threshold</Txt>
      <Txt x={1172} y={1290} size={28}><i>p</i><Sub s={0.78}>max</Sub> threshold</Txt>
    </>
  );
}

// ---------------- (d) ----------------
const DTick = (props: any) => {
  const { x, y, payload } = props;
  return (
    <text transform={`translate(${x + 3},${y + 2}) rotate(-90)`} textAnchor="end" fontSize={9} fontWeight={700}
      fill="#222" fontFamily={FONT}>{payload.value}</text>
  );
};

function DPanel(p: any) {
  const pad = Math.round(((p.x1 - p.x0) / 15.9) * 0.45);
  const W = p.x1 - p.x0 + 40;
  const rows = p.features.map((f: string, i: number) => ({
    f,
    ckpS: p.ckpShap[i], ckpSE: errOf(p.ckpShap[i], p.ckpShapCI[i]),
    cupS: p.cupShap[i], cupSE: errOf(p.cupShap[i], p.cupShapCI[i]),
    ckpP: p.ckpProp[i], ckpPE: errOf(p.ckpProp[i], p.ckpPropCI[i]),
    cupP: p.cupProp[i], cupPE: errOf(p.cupProp[i], p.cupPropCI[i]),
  }));
  const starsCkp = p.features.map((_: string, i: number) => ({ x: i - 0.125, y: p.ckpStar[i] }));
  const starsCup = p.features.map((_: string, i: number) => ({ x: i + 0.125, y: p.cupStar[i] }));
  const tickStyle = { fontSize: 9, fontWeight: 700, fill: "#222", fontFamily: FONT };
  const cx = (p.x0 + p.x1) / 2;
  return (
    <>
      <Txt x={cx} y={1449} size={10.5} weight={700}>{p.title}</Txt>
      <Txt x={cx} y={1462} size={10.5} weight={700}>
        <i>n</i><Sub>CKP</Sub> = {p.nCkp}, <i>n</i><Sub>CUP</Sub> = {p.nCup}
      </Txt>
      <Txt x={p.x0 - 30} y={1588} size={8.5} weight={700} rotate={-90}>Average impact of feature</Txt>
      <Txt x={p.x0 - 19} y={1588} size={8.5} weight={700} rotate={-90}><Hat>μ</Hat>(|SHAP|)</Txt>
      <Txt x={p.x0 - 25} y={1836} size={8.5} weight={700} rotate={-90}>Feature proportion</Txt>
      <Txt x={cx} y={p.xlabY} size={8.5} weight={700}>Sorted by <Hat>μ</Hat>(|SHAP|) in CKP cohort</Txt>
      <div style={{ position: "absolute", left: p.x0 - 30, top: 1466 }}>
        <ComposedChart width={W} height={245} data={rows} margin={{ top: 6, right: 10, left: 0, bottom: 0 }} barCategoryGap="25%" barGap={0}>
          <CartesianGrid vertical={false} stroke="#dcdcdc" strokeDasharray="24 4" />
          <XAxis dataKey="f" interval={0} padding={{ left: pad, right: pad }} tick={false} height={8} tickSize={4}
            axisLine={{ stroke: "#333" }} tickLine={{ stroke: "#333" }} />
          <YAxis domain={[0, p.upMax]} ticks={p.upTicks} allowDataOverflow width={30} tickSize={4}
            tickFormatter={(v: number) => v.toFixed(1)} axisLine={{ stroke: "#333" }} tickLine={{ stroke: "#333" }} tick={tickStyle} />
          <Bar dataKey="ckpS" fill="#6b7fc3" isAnimationActive={false}>
            <ErrorBar dataKey="ckpSE" width={7} stroke="#2c3f9e" strokeWidth={1.6} direction="y" />
          </Bar>
          <Bar dataKey="cupS" fill="#4fa66e" isAnimationActive={false}>
            <ErrorBar dataKey="cupSE" width={7} stroke="#0f7d33" strokeWidth={1.6} direction="y" />
          </Bar>
        </ComposedChart>
      </div>
      <div style={{ position: "absolute", left: p.x0 - 30, top: 1712 }}>
        <ComposedChart width={W} height={323} data={rows} margin={{ top: 6, right: 10, left: 0, bottom: 0 }} barCategoryGap="25%" barGap={0}>
          <CartesianGrid xAxisId="c" yAxisId="b" vertical={false} stroke="#dcdcdc" strokeDasharray="24 4" />
          <XAxis xAxisId="c" dataKey="f" interval={0} padding={{ left: pad, right: pad }} tick={<DTick />} height={80} tickSize={4}
            axisLine={{ stroke: "#333" }} tickLine={{ stroke: "#333" }} />
          <XAxis xAxisId="n" type="number" dataKey="x" domain={[-0.5, 14.5]} padding={{ left: pad, right: pad }} allowDataOverflow hide />
          <YAxis yAxisId="b" reversed domain={[0, 1]} ticks={[0, 0.2, 0.4, 0.6, 0.8, 1.0]} allowDataOverflow width={30} tickSize={4}
            tickFormatter={(v: number) => v.toFixed(1)} axisLine={{ stroke: "#333" }} tickLine={{ stroke: "#333" }} tick={tickStyle} />
          <YAxis yAxisId="s" type="number" dataKey="y" reversed domain={[0, 1]} allowDataOverflow hide />
          <Bar xAxisId="c" yAxisId="b" dataKey="ckpP" fill="#a3afde" isAnimationActive={false}>
            <ErrorBar dataKey="ckpPE" width={7} stroke="#7688cf" strokeWidth={1.2} direction="y" />
          </Bar>
          <Bar xAxisId="c" yAxisId="b" dataKey="cupP" fill="#8ecaa3" isAnimationActive={false}>
            <ErrorBar dataKey="cupPE" width={7} stroke="#3f9d5e" strokeWidth={1.2} direction="y" />
          </Bar>
          <Scatter xAxisId="n" yAxisId="s" data={starsCkp} shape={<StarShape color="#2b41a8" rad={5} />} isAnimationActive={false} />
          <Scatter xAxisId="n" yAxisId="s" data={starsCup} shape={<StarShape color="#15893d" rad={5} />} isAnimationActive={false} />
        </ComposedChart>
      </div>
    </>
  );
}

function LegendD() {
  return (
    <>
      <div style={{ position: "absolute", left: 50, top: 1397, width: 21, height: 8, background: "#6b7fc3" }} />
      <Txt x={78} y={1401} size={8.5} weight={700} anchor="start">CKP</Txt>
      <div style={{ position: "absolute", left: 113, top: 1397, width: 21, height: 8, background: "#4fa66e" }} />
      <Txt x={140} y={1401} size={8.5} weight={700} anchor="start">CUP</Txt>
      <svg style={{ position: "absolute", left: 182, top: 1395 }} width={12} height={12}><path d={starPath(6, 6, 4.5)} fill="#2b41a8" /></svg>
      <Txt x={203} y={1396} size={8.5} weight={700} anchor="start">Feature proportion</Txt>
      <Txt x={203} y={1406} size={8.5} weight={700} anchor="start">in all CKPs</Txt>
      <svg style={{ position: "absolute", left: 301, top: 1395 }} width={12} height={12}><path d={starPath(6, 6, 4.5)} fill="#15893d" /></svg>
      <Txt x={323} y={1396} size={8.5} weight={700} anchor="start">Feature proportion</Txt>
      <Txt x={323} y={1406} size={8.5} weight={700} anchor="start">in all CUPs</Txt>
      <svg style={{ position: "absolute", left: 420, top: 1392 }} width={10} height={18}>
        <line x1={5} y1={1} x2={5} y2={17} stroke="#aaa" strokeWidth={1.2} />
        <line x1={2} y1={1} x2={8} y2={1} stroke="#aaa" strokeWidth={1.2} />
        <line x1={2} y1={17} x2={8} y2={17} stroke="#aaa" strokeWidth={1.2} />
        <rect x={3} y={7} width={4} height={4} fill="#aaa" />
      </svg>
      <Txt x={442} y={1388} size={8.5} weight={700} anchor="start">95% C.I.:</Txt>
      <Txt x={442} y={1399} size={8.5} weight={700} anchor="start"><Hat>μ</Hat>(|SHAP|)±1.96 × S.E.</Txt>
      <Txt x={442} y={1410} size={8.5} weight={700} anchor="start">sample prop.±1.96 × S.E.</Txt>
    </>
  );
}

export default function App() {
  return (
    <div style={{ position: "absolute", left: 0, top: 0, width: 1706, height: 2100, background: "#fff", overflow: "hidden", fontFamily: FONT }}>
      <PanelA />
      <LegendA />
      <PanelB />
      <LegendB />
      <PanelC left={198} width={635} ml={40} mr={20} prs={cCkpPrs} prsCI={cCkpPrsCI} rnd={cCkpRand} rndCI={cCkpRandCI}
        color="#3333ff" counts={cCkpN} cohort="CKP" />
      <PanelC left={847} width={603} ml={10} mr={20} prs={cCupPrs} prsCI={cCupPrsCI} rnd={cCupRand} rndCI={cCupRandCI}
        color="#2ca02c" counts={cCupN} cohort="CUP" />
      <LegendC />
      <LegendD />
      <DPanel x0={43} x1={548} xlabY={2024} title="Non-Small Cell Lung Cancer (NSCLC)" nCkp="1342" nCup="280"
        features={nsclcFeatures} ckpShap={nsclcCkpShap} ckpShapCI={nsclcCkpShapCI} cupShap={nsclcCupShap} cupShapCI={nsclcCupShapCI}
        ckpProp={nsclcCkpProp} ckpPropCI={nsclcCkpPropCI} cupProp={nsclcCupProp} cupPropCI={nsclcCupPropCI}
        ckpStar={nsclcCkpStar} cupStar={nsclcCupStar} upMax={1.25} upTicks={[0, 0.2, 0.4, 0.6, 0.8, 1.0, 1.2]} />
      <DPanel x0={620} x1={1138} xlabY={2022} title="Invasive Breast Carcinoma (BRCA)" nCkp="1245" nCup="85"
        features={brcaFeatures} ckpShap={brcaCkpShap} ckpShapCI={brcaCkpShapCI} cupShap={brcaCupShap} cupShapCI={brcaCupShapCI}
        ckpProp={brcaCkpProp} ckpPropCI={brcaCkpPropCI} cupProp={brcaCupProp} cupPropCI={brcaCupPropCI}
        ckpStar={brcaCkpStar} cupStar={brcaCupStar} upMax={0.976} upTicks={[0, 0.2, 0.4, 0.6, 0.8]} />
      <DPanel x0={1168} x1={1696} xlabY={2031} title="Pancreatic Adenocarcinoma (PAAD)" nCkp="379" nCup="85"
        features={paadFeatures} ckpShap={paadCkpShap} ckpShapCI={paadCkpShapCI} cupShap={paadCupShap} cupShapCI={paadCupShapCI}
        ckpProp={paadCkpProp} ckpPropCI={paadCkpPropCI} cupProp={paadCupProp} cupPropCI={paadCupPropCI}
        ckpStar={paadCkpStar} cupStar={paadCupStar} upMax={2.7} upTicks={[0, 0.5, 1.0, 1.5, 2.0, 2.5]} />
      <Txt x={455} y={506} size={28} family={SERIF}>(a)</Txt>
      <Txt x={1259} y={506} size={28} family={SERIF}>(b)</Txt>
      <Txt x={846} y={1359} size={28} family={SERIF}>(c)</Txt>
      <Txt x={846} y={2080} size={28} family={SERIF}>(d)</Txt>
    </div>
  );
}
